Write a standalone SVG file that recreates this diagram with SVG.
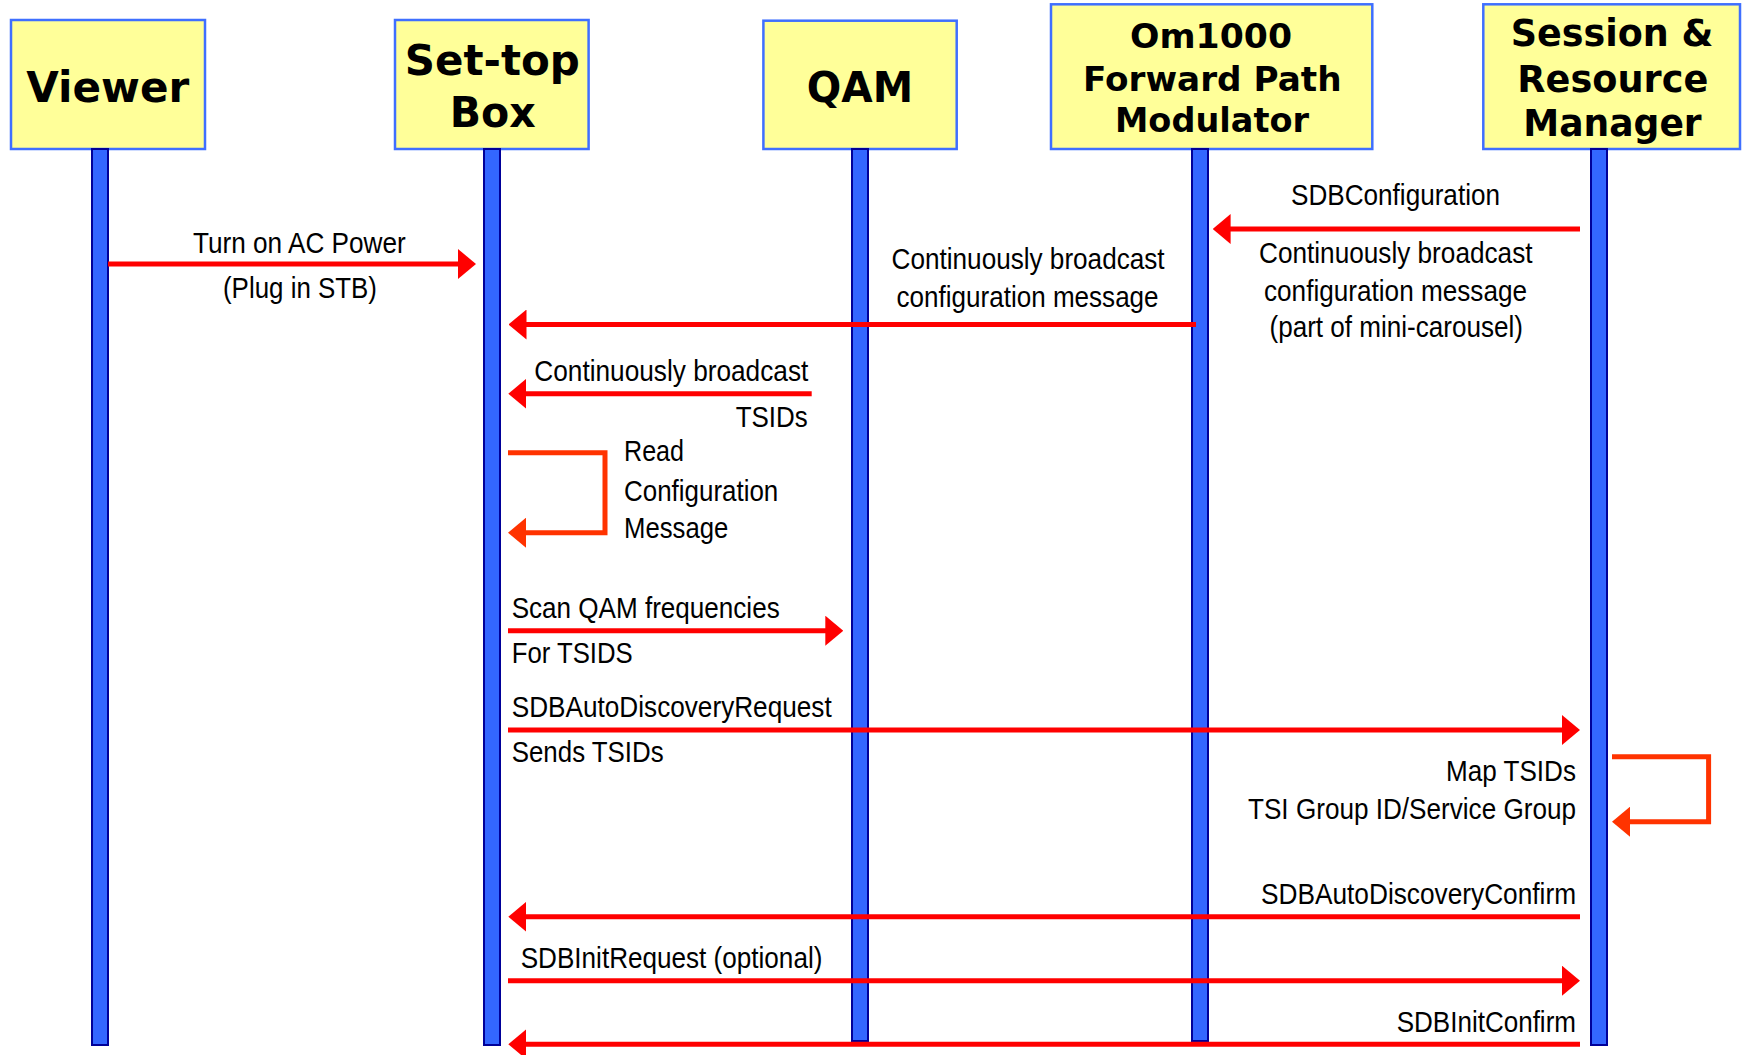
<svg xmlns="http://www.w3.org/2000/svg" width="1745" height="1055" viewBox="0 0 1745 1055">
  <style>
    .box { fill: #FFFF99; stroke: #3F6FFF; stroke-width: 2.5; }
    .life { fill: #3366FF; stroke: #000099; stroke-width: 2; }
    .title { font-family: "DejaVu Sans", Verdana, sans-serif; font-weight: bold; fill: #000; text-anchor: middle; }
    .t42 { font-size: 42px; }
    .t33 { font-size: 33px; }
    .t36 { font-size: 36.5px; }
    .lbl { font-family: "Liberation Sans", Arial, Helvetica, sans-serif; font-size: 30px; fill: #000; }
    .msg { fill: none; stroke: #FF0000; stroke-width: 5; marker-end: url(#head); }
    .self { fill: none; stroke: #FF3300; stroke-width: 5; stroke-linejoin: miter; marker-end: url(#headSelf); }
  </style>
  <defs>
    <marker id="head" markerUnits="userSpaceOnUse" viewBox="0 0 18 30" markerWidth="18" markerHeight="30" refX="2" refY="15" orient="auto">
      <path d="M0,0 L18,15 L0,30 Z" fill="#FF0000"/>
    </marker>
    <marker id="headSelf" markerUnits="userSpaceOnUse" viewBox="0 0 18 30" markerWidth="18" markerHeight="30" refX="2" refY="15" orient="auto">
      <path d="M0,0 L18,15 L0,30 Z" fill="#FF3300"/>
    </marker>
  </defs>
  <rect width="1745" height="1055" fill="#FFFFFF"/>

  <!-- participants: header box plus lifeline -->
  <g id="viewer">
    <rect class="box" x="11" y="20" width="194" height="129"/>
    <rect class="life" x="92" y="149" width="16" height="896"/>
    <text class="title t42" x="107.7" y="101.7" textLength="163" lengthAdjust="spacingAndGlyphs">Viewer</text>
  </g>
  <g id="set-top-box">
    <rect class="box" x="395" y="20" width="193.6" height="129"/>
    <rect class="life" x="484" y="149" width="16" height="896"/>
    <text class="title t42" x="492.3" y="75" textLength="175" lengthAdjust="spacingAndGlyphs">Set-top</text>
    <text class="title t42" x="492.7" y="126.7" textLength="86" lengthAdjust="spacingAndGlyphs">Box</text>
  </g>
  <g id="qam">
    <rect class="box" x="763.4" y="20.7" width="193.3" height="128.3"/>
    <rect class="life" x="852" y="149" width="16" height="892"/>
    <text class="title t42" x="860" y="101.7" textLength="106.4" lengthAdjust="spacingAndGlyphs">QAM</text>
  </g>
  <g id="om1000">
    <rect class="box" x="1051" y="4.3" width="321.3" height="144.7"/>
    <rect class="life" x="1192" y="149" width="16" height="892"/>
    <text class="title t33" x="1211" y="48.3" textLength="162" lengthAdjust="spacingAndGlyphs">Om1000</text>
    <text class="title t33" x="1212.3" y="90.7" textLength="258.7" lengthAdjust="spacingAndGlyphs">Forward Path</text>
    <text class="title t33" x="1212" y="131.7" textLength="194" lengthAdjust="spacingAndGlyphs">Modulator</text>
  </g>
  <g id="srm">
    <rect class="box" x="1483.3" y="4.3" width="256.7" height="144.7"/>
    <rect class="life" x="1591" y="149" width="16" height="896"/>
    <text class="title t36" x="1612" y="45.7" textLength="202.7" lengthAdjust="spacingAndGlyphs">Session &amp;</text>
    <text class="title t36" x="1612.8" y="91.7" textLength="191" lengthAdjust="spacingAndGlyphs">Resource</text>
    <text class="title t36" x="1612.5" y="136" textLength="178.3" lengthAdjust="spacingAndGlyphs">Manager</text>
  </g>

  <!-- messages -->
  <g id="connectors">
    <path class="msg" d="M108,264 H460"/>
    <path class="msg" d="M1580,229 H1228.6"/>
    <path class="msg" d="M1196,324.5 H524.5"/>
    <path class="msg" d="M811.7,393.7 H524.3"/>
    <path class="self" d="M508,452.7 H605 V532.7 H524"/>
    <path class="msg" d="M508,630.7 H827.3"/>
    <path class="msg" d="M508,730 H1564"/>
    <path class="self" d="M1612,756.7 H1708.6 V821.7 H1628"/>
    <path class="msg" d="M1580,916.7 H524.3"/>
    <path class="msg" d="M508,980.7 H1564"/>
    <path class="msg" d="M1580,1044.3 H524.3"/>
  </g>

  <!-- message labels -->
  <g id="labels">
    <text class="lbl" x="193" y="253.3" textLength="212.7" lengthAdjust="spacingAndGlyphs">Turn on AC Power</text>
    <text class="lbl" x="223" y="297.7" textLength="154" lengthAdjust="spacingAndGlyphs">(Plug in STB)</text>

    <text class="lbl" x="1291" y="205" textLength="209" lengthAdjust="spacingAndGlyphs">SDBConfiguration</text>
    <text class="lbl" x="1259" y="263.3" textLength="273.5" lengthAdjust="spacingAndGlyphs">Continuously broadcast</text>
    <text class="lbl" x="1264" y="301" textLength="263" lengthAdjust="spacingAndGlyphs">configuration message</text>
    <text class="lbl" x="1269.5" y="337.3" textLength="253.5" lengthAdjust="spacingAndGlyphs">(part of mini-carousel)</text>

    <text class="lbl" x="891.6" y="269.3" textLength="273" lengthAdjust="spacingAndGlyphs">Continuously broadcast</text>
    <text class="lbl" x="896.6" y="306.7" textLength="262" lengthAdjust="spacingAndGlyphs">configuration message</text>

    <text class="lbl" x="534.3" y="380.7" textLength="274" lengthAdjust="spacingAndGlyphs">Continuously broadcast</text>
    <text class="lbl" x="735.7" y="426.7" textLength="72" lengthAdjust="spacingAndGlyphs">TSIDs</text>

    <text class="lbl" x="624" y="460.7" textLength="60" lengthAdjust="spacingAndGlyphs">Read</text>
    <text class="lbl" x="624" y="500.5" textLength="154.3" lengthAdjust="spacingAndGlyphs">Configuration</text>
    <text class="lbl" x="624" y="537.7" textLength="104.3" lengthAdjust="spacingAndGlyphs">Message</text>

    <text class="lbl" x="511.7" y="617.7" textLength="268" lengthAdjust="spacingAndGlyphs">Scan QAM frequencies</text>
    <text class="lbl" x="511.7" y="663.3" textLength="121" lengthAdjust="spacingAndGlyphs">For TSIDS</text>

    <text class="lbl" x="511.7" y="716.7" textLength="320" lengthAdjust="spacingAndGlyphs">SDBAutoDiscoveryRequest</text>
    <text class="lbl" x="511.7" y="761.7" textLength="152" lengthAdjust="spacingAndGlyphs">Sends TSIDs</text>

    <text class="lbl" x="1446" y="780.7" textLength="130" lengthAdjust="spacingAndGlyphs">Map TSIDs</text>
    <text class="lbl" x="1248" y="819.3" textLength="328" lengthAdjust="spacingAndGlyphs">TSI Group ID/Service Group</text>

    <text class="lbl" x="1261" y="904" textLength="315" lengthAdjust="spacingAndGlyphs">SDBAutoDiscoveryConfirm</text>
    <text class="lbl" x="520.7" y="968.3" textLength="301.7" lengthAdjust="spacingAndGlyphs">SDBInitRequest (optional)</text>
    <text class="lbl" x="1396.7" y="1031.7" textLength="179.3" lengthAdjust="spacingAndGlyphs">SDBInitConfirm</text>
  </g>
</svg>
